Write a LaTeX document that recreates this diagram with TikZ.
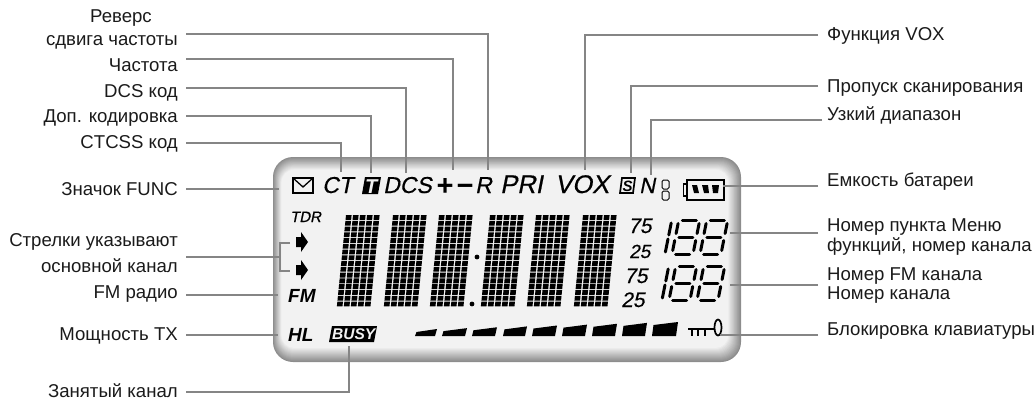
\documentclass[tikz,border=0pt]{standalone}
\usepackage{fontspec}
\setmainfont{Liberation Sans}
\newfontfamily\lcdmedium[FakeBold=.5,FakeSlant=.2]{Liberation Sans}
\definecolor{LeaderGray}{HTML}{858585}
\definecolor{LabelInk}{HTML}{1A1A1A}
\definecolor{PanelLight}{HTML}{F2F2F2}
\tikzset{
  lblleft/.style={anchor=base east, inner xsep=8pt, inner ysep=0pt, text=LabelInk,
                font=\fontsize{18.6}{21}\selectfont},
  lblright/.style={anchor=base west, inner xsep=9pt, inner ysep=0pt, text=LabelInk,
                font=\fontsize{18.6}{21}\selectfont},
  leaderline/.style={LeaderGray, line width=1.4pt},
  lcdreg/.style={anchor=base west, inner sep=0pt, font=\fontsize{#1}{#1}\selectfont\lcdmedium},
  lcdbold/.style={anchor=base west, inner sep=0pt, font=\fontsize{#1}{#1}\selectfont\bfseries\itshape},
  segline/.style={line width=3pt, line cap=round},
}
% one slanted seven-segment cell, lower left corner at #1
\newcommand{\segeight}[1]{
  \begin{scope}[shift={(#1)}, xslant=.2]
    \draw[segline] (3.5,-34) -- (17.5,-34) (3.5,-17) -- (17.5,-17) (3.5,0) -- (17.5,0);
    \draw[segline] (0,-30.5) -- (0,-20.5) (0,-13.5) -- (0,-3.5);
    \draw[segline] (21,-30.5) -- (21,-20.5) (21,-13.5) -- (21,-3.5);
  \end{scope}
}
\newcommand{\segone}[1]{
  \begin{scope}[shift={(#1)}, xslant=.2]
    \draw[segline] (0,-31) -- (0,-19) (0,-15) -- (0,-2);
  \end{scope}
}
\begin{document}
\begin{tikzpicture}[x=1pt, y=-1pt]
    \useasboundingbox (0,0) rectangle (1036,399);

    % LCD panel: stacked rounded plates give the bevel
    \foreach \t in {0,...,14} {
      \pgfmathsetmacro{\tone}{45-2.85*\t}
      \pgfmathsetmacro{\rad}{20-.5*\t}
      \fill[black!\tone, rounded corners=\rad pt]
        (273+.6*\t,157+.9*\t) rectangle (741-.9*\t,362-1.0*\t);
    }

    % label nodes, left side
    \node[lblleft, anchor=base, inner xsep=0pt] (LblRevA) at (121,22) {Реверс};
    \node[lblleft] (LblRevB) at (186,45) {сдвига частоты};
    \node[lblleft] (LblFreq) at (186,71) {Частота};
    \node[lblleft] (LblDCS) at (186,97) {DCS код};
    \node[lblleft] (LblEnc) at (186,122) {Доп. кодировка};
    \node[lblleft] (LblCTCSS) at (186,148) {CTCSS код};
    \node[lblleft] (LblFunc) at (186,195) {Значок FUNC};
    \node[lblleft] (LblMainA) at (186,246) {Стрелки указывают};
    \node[lblleft] (LblMainB) at (186,272) {основной канал};
    \node[lblleft] (LblFM) at (186,298) {FM радио};
    \node[lblleft] (LblPower) at (186,340) {Мощность TX};
    \node[lblleft] (LblBusy) at (186,397) {Занятый канал};

    % label nodes, right side
    \node[lblright] (LblVOX) at (818,40) {Функция VOX};
    \node[lblright] (LblSkip) at (818,92) {Пропуск сканирования};
    \node[lblright, inner xsep=5pt] (LblNarrow) at (822,120) {Узкий диапазон};
    \node[lblright] (LblBatt) at (818,186) {Емкость батареи};
    \node[lblright] (LblMenuA) at (818,231) {Номер пункта Меню};
    \node[lblright] (LblMenuB) at (818,251) {функций, номер канала};
    \node[lblright] (LblChanA) at (818,280) {Номер FM канала};
    \node[lblright] (LblChanB) at (818,299) {Номер канала};
    \node[lblright] (LblLock) at (818,335) {Блокировка клавиатуры};

    % indicators on the display
    \draw[line width=1.3pt] (293,178) rectangle (313,193);
    \draw[line width=1.3pt] (293,178) -- (303,187) -- (313,178);
    \node[lcdreg=23] (SymCT) at (322,193) {CT};
    \fill (365,177) -- (381,177) -- (378,194) -- (362,194) -- cycle;
    \node[lcdbold=20, text=PanelLight] (SymT) at (365,193) {T};
    \node[lcdreg=23] (SymDCS) at (383,193) {DCS};
    \node[lcdbold=29] (SymPlus) at (436,195) {+};
    \node[lcdbold=29] (SymMinus) at (456,195) {−};
    \node[lcdreg=23] (SymR) at (475,193) {R};
    \node[lcdreg=25.5] (SymPRI) at (500,193) {PRI};
    \node[lcdreg=25.5] (SymVOX) at (555,193) {VOX};
    \draw[line width=1.7pt] (622,178) -- (635,178) -- (633,193) -- (620,193) -- cycle;
    \node[lcdbold=15] (SymS) at (622.5,191) {S};
    \node[lcdreg=22] (SymN) at (639,193) {N};
    \draw[line width=1pt, rounded corners=1.5pt] (662,180) rectangle (669,189);
    \draw[line width=1pt, rounded corners=1.5pt] (662,191) rectangle (669,200);

    % battery
    \draw[line width=1.3pt] (687,180) rectangle (724,200);
    \draw[line width=1.3pt] (687,184) -- (683.5,184) -- (683.5,196) -- (687,196);
    \fill (692,185) -- (697,185) -- (699,193) -- (694,193) -- cycle;
    \fill (702,185) -- (708,185) -- (709,193) -- (704,193) -- cycle;
    \fill (712,185) -- (719,185) -- (718,193) -- (713,193) -- cycle;

    \node[lcdreg=15] (SymTDR) at (290,222) {TDR};
    \foreach \ay in {242,270} {
      \fill (296,\ay-5) -- (301,\ay-5) -- (301,\ay-10) -- (308,\ay) -- (301,\ay+10)
        -- (301,\ay+5) -- (296,\ay+5) -- cycle;
    }
    \node[lcdbold=19] (SymFM) at (288,302) {FM};
    \node[lcdbold=19] (SymHL) at (288,341) {HL};
    \fill (332,326) -- (377,326) -- (374,342) -- (329,342) -- cycle;
    \node[lcdbold=15.5, text=PanelLight] (SymBusy) at (332,339) {BUSY};

    % dot matrix digits
    \foreach \bx in {346,393,439,490,536,583} {
      \begin{scope}[shift={(\bx,215)}, xslant=.1]
        \foreach \c in {0,...,4} {
          \foreach \r in {0,...,15} {
            \fill (7*\c,5.77*\r) rectangle ++(5.6,4.8);
          }
        }
      \end{scope}
    }
    \fill (477,257) circle (2.4);
    \fill (472,304) circle (2.4);

    % small numbers and segment digits
    \node[lcdreg=21] (SymSeventyA) at (628,233) {75};
    \node[lcdreg=19] (SymTwentyA) at (629,258) {25};
    \node[lcdreg=21] (SymSeventyB) at (624,283) {75};
    \node[lcdreg=21] (SymTwentyB) at (621,307) {25};
    \segone{665,254}
    \segeight{672,254}
    \segeight{700,254}
    \segone{662,300}
    \segeight{669,300}
    \segeight{697,300}

    % signal bars
    \foreach \n/\xl/\xr in {0/415/437,1/442/467,2/472/497,3/503/527,4/532/557,5/562/587,6/592/617,7/622/647,8/652/678} {
      \fill (\xl+1.5,332-.875*\n) -- (\xr,329-.875*\n) -- (\xr-2,336) -- (\xl,336) -- cycle;
    }

    % key
    \draw[line width=2.2pt] (688,329) -- (714,329);
    \draw[line width=1.5pt] (692,329) -- (692,336) (698,329) -- (698,336) (705,329) -- (705,336);
    \draw[line width=1.7pt] (718,327.5) ellipse (3.5 and 8);

    % leader tips
    \coordinate (TipRev) at (488,170);
    \coordinate (TipFreq) at (453,170);
    \coordinate (TipDCS) at (406,173);
    \coordinate (TipEnc) at (371,173);
    \coordinate (TipCTCSS) at (341,172);
    \coordinate (TipFunc) at (279,189);
    \coordinate (TipMainA) at (290,243);
    \coordinate (TipMainB) at (290,271);
    \coordinate (JoinMain) at (280,257);
    \coordinate (TipFM) at (278,295);
    \coordinate (TipPower) at (278,335);
    \coordinate (TipBusy) at (349,346);
    \coordinate (TipVOX) at (585,170);
    \coordinate (TipSkip) at (631,173);
    \coordinate (TipNarrow) at (651,175);
    \coordinate (TipBatt) at (723,186);
    \coordinate (TipMenu) at (730,233);
    \coordinate (TipChan) at (730,285);
    \coordinate (TipLock) at (720,335);

    % leaders
    \draw[leaderline] ([yshift=11pt]LblRevB.base east) -| (TipRev);
    \draw[leaderline] ([yshift=12pt]LblFreq.base east) -| (TipFreq);
    \draw[leaderline] ([yshift=9pt]LblDCS.base east) -| (TipDCS);
    \draw[leaderline] ([yshift=6pt]LblEnc.base east) -| (TipEnc);
    \draw[leaderline] ([yshift=5pt]LblCTCSS.base east) -| (TipCTCSS);
    \draw[leaderline] ([yshift=6pt]LblFunc.base east) -- (TipFunc);
    \draw[leaderline] ([yshift=15pt]LblMainB.base east) -- (JoinMain);
    \draw[leaderline] (TipMainA) -| (JoinMain) |- (TipMainB);
    \draw[leaderline] ([yshift=3pt]LblFM.base east) -- (TipFM);
    \draw[leaderline] ([yshift=5pt]LblPower.base east) -- (TipPower);
    \draw[leaderline] ([yshift=5pt]LblBusy.base east) -| (TipBusy);
    \draw[leaderline] ([yshift=5pt]LblVOX.base west) -| (TipVOX);
    \draw[leaderline] ([yshift=6pt]LblSkip.base west) -| (TipSkip);
    \draw[leaderline] (LblNarrow.base west) -| (TipNarrow);
    \draw[leaderline] (LblBatt.base west) -- (TipBatt);
    \draw[leaderline] ([yshift=-2pt]LblMenuA.base west) -- (TipMenu);
    \draw[leaderline] ([yshift=-5pt]LblChanA.base west) -- (TipChan);
    \draw[leaderline] (LblLock.base west) -- (TipLock);
\end{tikzpicture}
\end{document}
